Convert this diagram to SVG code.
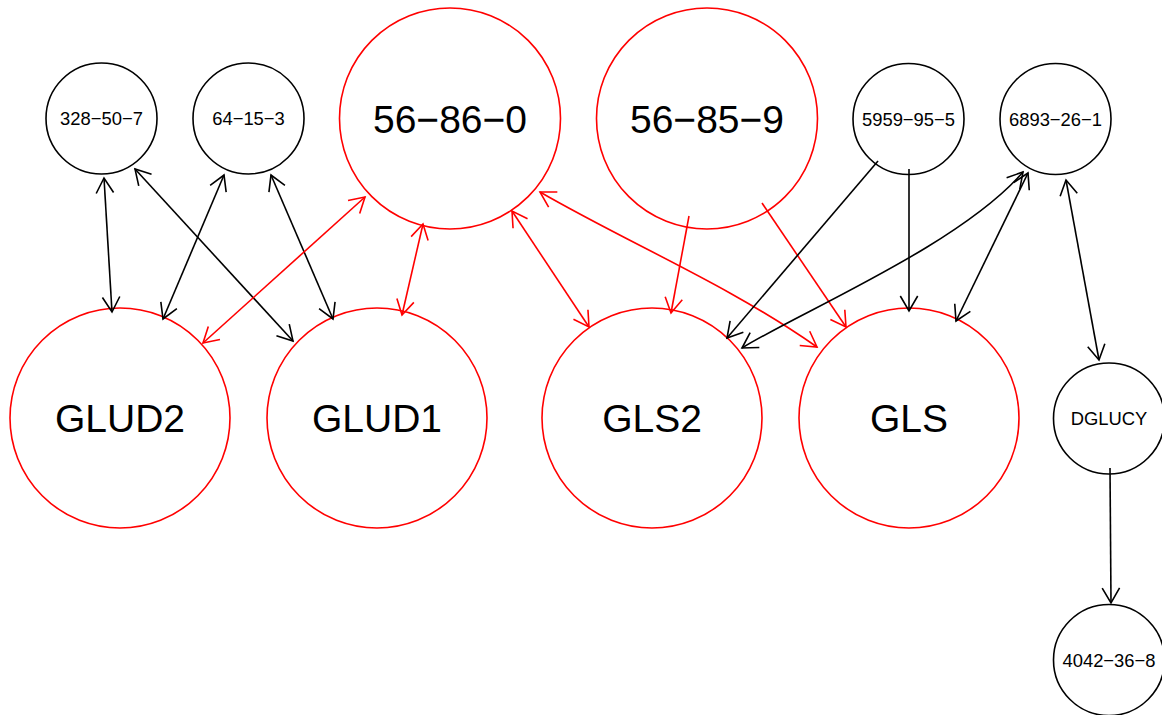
<svg xmlns="http://www.w3.org/2000/svg" width="1162" height="715" viewBox="0 0 1162 715">
<style>
.n circle{fill:none;stroke-width:1.6}
.blk circle{stroke:#000}
.red circle{stroke:#FF0000}
.n text{font-family:"Liberation Sans",Arial,sans-serif;fill:#000;text-anchor:middle}
.big text{font-size:39px}
.sm text{font-size:18.4px}
.e path{fill:none;stroke-width:1.6}
.e .k{stroke:#000}
.e .r{stroke:#FF0000}
</style>
<defs>
<marker id="ak" viewBox="-17 -11 19 22" refX="0" refY="0" markerWidth="19" markerHeight="22" markerUnits="userSpaceOnUse" orient="auto-start-reverse">
<path d="M-15,-8.7 L0,0 L-15,8.7" fill="none" stroke="#000" stroke-width="1.6"/>
</marker>
<marker id="ar" viewBox="-17 -11 19 22" refX="0" refY="0" markerWidth="19" markerHeight="22" markerUnits="userSpaceOnUse" orient="auto-start-reverse">
<path d="M-15,-8.7 L0,0 L-15,8.7" fill="none" stroke="#FF0000" stroke-width="1.6"/>
</marker>
</defs>
<rect width="1162" height="715" fill="#fff"/>
<g id="nodes">
<g id="n-328-50-7" class="n blk sm"><circle cx="101.5" cy="118.5" r="55.5"/><text x="101.5" y="125.1">328−50−7</text></g>
<g id="n-64-15-3" class="n blk sm"><circle cx="248.5" cy="118.5" r="55.5"/><text x="248.5" y="125.1">64−15−3</text></g>
<g id="n-56-86-0" class="n red big"><circle cx="450" cy="118.5" r="110.5"/><text x="450" y="132.5">56−86−0</text></g>
<g id="n-56-85-9" class="n red big"><circle cx="707" cy="118.5" r="110.5"/><text x="707" y="132.5">56−85−9</text></g>
<g id="n-5959-95-5" class="n blk sm"><circle cx="908.5" cy="119" r="55.5"/><text x="908.5" y="125.6">5959−95−5</text></g>
<g id="n-6893-26-1" class="n blk sm"><circle cx="1055.5" cy="119" r="55.5"/><text x="1055.5" y="125.6">6893−26−1</text></g>
<g id="n-GLUD2" class="n red big"><circle cx="120" cy="418" r="110"/><text x="120" y="432">GLUD2</text></g>
<g id="n-GLUD1" class="n red big"><circle cx="377" cy="418" r="110"/><text x="377" y="432">GLUD1</text></g>
<g id="n-GLS2" class="n red big"><circle cx="652" cy="418" r="110"/><text x="652" y="432">GLS2</text></g>
<g id="n-GLS" class="n red big"><circle cx="909" cy="418" r="110"/><text x="909" y="432">GLS</text></g>
<g id="n-DGLUCY" class="n blk sm"><circle cx="1109" cy="418.5" r="55.5"/><text x="1109" y="425.1">DGLUCY</text></g>
<g id="n-4042-36-8" class="n blk sm"><circle cx="1109" cy="660" r="55.5"/><text x="1109" y="666.6">4042−36−8</text></g>
</g>
<g id="edges" class="e">
<path class="k" d="M104,178 L112,312" marker-start="url(#ak)" marker-end="url(#ak)"/>
<path class="k" d="M135,169 L293,341" marker-start="url(#ak)" marker-end="url(#ak)"/>
<path class="k" d="M224,175 L163,319" marker-start="url(#ak)" marker-end="url(#ak)"/>
<path class="k" d="M271,175 L333,319" marker-start="url(#ak)" marker-end="url(#ak)"/>
<path class="r" d="M365,197 L203,343" marker-start="url(#ar)" marker-end="url(#ar)"/>
<path class="r" d="M423,224 L402,315" marker-start="url(#ar)" marker-end="url(#ar)"/>
<path class="r" d="M512,211 L589,327" marker-start="url(#ar)" marker-end="url(#ar)"/>
<path class="r" d="M540,192 C630,244 727,284 817,347" marker-start="url(#ar)" marker-end="url(#ar)"/>
<path class="r" d="M689,216 L671,313" marker-end="url(#ar)"/>
<path class="r" d="M762,203 L846,327" marker-end="url(#ar)"/>
<path class="k" d="M878,161 L727,338" marker-end="url(#ak)"/>
<path class="k" d="M909,169 L909,311" marker-end="url(#ak)"/>
<path class="k" d="M742,348 C800,312 960,245 1023,172" marker-start="url(#ak)" marker-end="url(#ak)"/>
<path class="k" d="M1028,173 L956,321" marker-start="url(#ak)" marker-end="url(#ak)"/>
<path class="k" d="M1066,180 L1099,360" marker-start="url(#ak)" marker-end="url(#ak)"/>
<path class="k" d="M1110,468 L1111,603" marker-end="url(#ak)"/>
</g>
</svg>
